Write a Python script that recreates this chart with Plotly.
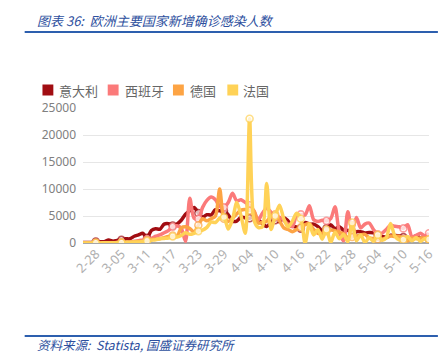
import plotly.graph_objects as go

dates = ["2-25", "2-26", "2-27", "2-28", "2-29", "3-01", "3-02", "3-03", "3-04", "3-05",
         "3-06", "3-07", "3-08", "3-09", "3-10", "3-11", "3-12", "3-13", "3-14", "3-15",
         "3-16", "3-17", "3-18", "3-19", "3-20", "3-21", "3-22", "3-23", "3-24", "3-25",
         "3-26", "3-27", "3-28", "3-29", "3-30", "3-31", "4-01", "4-02", "4-03", "4-04",
         "4-05", "4-06", "4-07", "4-08", "4-09", "4-10", "4-11", "4-12", "4-13", "4-14",
         "4-15", "4-16", "4-17", "4-18", "4-19", "4-20", "4-21", "4-22", "4-23", "4-24",
         "4-25", "4-26", "4-27", "4-28", "4-29", "4-30", "5-01", "5-02", "5-03", "5-04",
         "5-05", "5-06", "5-07", "5-08", "5-09", "5-10", "5-11", "5-12", "5-13", "5-14",
         "5-15", "5-16"]

tick_labels = ["2-28", "3-05", "3-11", "3-17", "3-23", "3-29", "4-04", "4-10",
               "4-16", "4-22", "4-28", "5-04", "5-10", "5-16"]

y_ticks = [0, 5000, 10000, 15000, 20000, 25000]

italy = [100, 93, 78, 250, 238, 240, 561, 347, 466, 587,
         769, 778, 1247, 1492, 1797, 977, 2313, 2651, 2547, 3497,
         3590, 3233, 3526, 4207, 5322, 5986, 6557, 5560, 4789, 5249,
         5210, 6153, 5959, 5974, 5217, 4050, 4053, 4782, 4668, 4585,
         4805, 4316, 3599, 3039, 3836, 4204, 3951, 4694, 4092, 3153,
         2972, 2667, 3786, 3493, 3491, 3047, 2256, 2729, 3370, 2646,
         3021, 2357, 2324, 1739, 2091, 2086, 1872, 1965, 1900, 1389,
         1221, 1075, 1444, 1401, 1327, 1083, 802, 744, 1402, 888,
         992, 789]

spain = [0, 0, 2, 6, 13, 15, 32, 45, 84, 74,
         107, 163, 330, 430, 580, 700, 870, 1250, 1500, 1900,
         2300, 3000, 3200, 2700, 300, 8300, 4600, 4500, 6600, 7900,
         8500, 8000, 6800, 6600, 7500, 9200, 7800, 8000, 7500, 7000,
         6000, 4300, 5500, 6500, 5700, 4800, 4800, 4200, 3500, 3000,
         5100, 5300, 5200, 6900, 4300, 4000, 4200, 4100, 4500, 6700,
         2000, 400, 5800, 2200, 4700, 2800, 3500, 3700, 2500, 1600,
         1800, 2500, 3300, 3100, 3000, 2700, 3400, 1200, 1400, 1800,
         1300, 1800]

germany = [0, 5, 10, 15, 20, 30, 40, 50, 60, 90,
           130, 150, 210, 270, 320, 500, 650, 700, 800, 1000,
           1200, 1400, 1200, 2800, 3000, 2700, 2000, 3300, 4500, 4100,
           4500, 5000, 10000, 4500, 4000, 4600, 5400, 6100, 6200, 6000,
           5900, 3700, 3800, 4000, 5000, 5300, 4100, 2800, 2500, 2100,
           2500, 2900, 3400, 3600, 2500, 1800, 1800, 2200, 2400, 2300,
           2000, 1700, 1000, 1100, 1300, 1500, 1600, 950, 800, 700,
           700, 950, 1300, 1200, 1250, 670, 360, 930, 800, 930,
           910, 620]

france = [5, 10, 20, 40, 20, 40, 60, 40, 80, 70,
          100, 150, 180, 200, 290, 370, 500, 600, 800, 850,
          900, 1200, 1100, 1400, 1900, 1600, 1800, 2200, 2400, 2900,
          3900, 3800, 4600, 4800, 2600, 4400, 7500, 5000, 1800, 23000,
          4300, 2900, 3000, 11000, 2500, 5000, 7000, 4500, 3000, 4000,
          5500, 4500, 0, 3500, 1500, 2500, 700, 2500, 100, 2000,
          800, 1600, 200, 3800, 400, 1500, 100, 1000, 300, 1500,
          500, 1000, 3600, 1300, 600, 600, 1200, 400, 1000, 300,
          800, 700]

series_names = ["意大利", "西班牙", "德国", "法国"]
series_values = [italy, spain, germany, france]
series_colors = ["#a10d12", "#fb7a7a", "#fda444", "#ffd257"]

# page body adds an 8px margin; work in screen pixels and convert
OFF = 8
W, H = 448 - OFF, 355 - OFF
PL, PR, PT, PB = 83, 433, 108, 243          # plot area in screen pixels
ML, MR, MT, MB = PL - OFF, (W + OFF) - PR, PT - OFF, (H + OFF) - PB
PW, PH = PR - PL, PB - PT


def px(x):
    return (x - PL) / PW


def py(y):
    return (PB - y) / PH


fig = go.Figure()

msize = [7 if d in tick_labels else 0 for d in dates]
mline = [1.6 if d in tick_labels else 0 for d in dates]

for name, vals, col in zip(series_names, series_values, series_colors):
    fig.add_trace(go.Scatter(
        x=dates, y=vals, name=name, mode="lines+markers",
        line=dict(color=col, width=3.5, shape="spline", smoothing=0.8),
        marker=dict(size=msize, color="white", line=dict(color=col, width=mline)),
        showlegend=False, cliponaxis=True,
    ))

shapes = [
    dict(type="line", xref="paper", yref="paper", x0=px(24), x1=px(442), y0=py(32), y1=py(32),
         line=dict(color="#2d5fae", width=2)),
    dict(type="line", xref="paper", yref="paper", x0=px(24), x1=px(442), y0=py(336), y1=py(336),
         line=dict(color="#2d5fae", width=2)),
]
annotations = [
    dict(text="<i>图表 36:  欧洲主要国家新增确诊感染人数</i>", xref="paper", yref="paper",
         x=px(34), y=py(20), xanchor="left", yanchor="middle", showarrow=False,
         font=dict(family="Noto Sans CJK SC", size=13, color="#2d4f9e")),
    dict(text="<i>资料来源:  Statista, 国盛证券研究所</i>", xref="paper", yref="paper",
         x=px(34), y=py(344), xanchor="left", yanchor="middle", showarrow=False,
         font=dict(family="Noto Sans CJK SC", size=12.5, color="#2d4f9e")),
]

# legend (square swatches + labels)
leg_sq = [47.5, 113.5, 179.5, 234.5]
leg_tx = [57, 123, 189, 243]
for name, col, sx, tx in zip(series_names, series_colors, leg_sq, leg_tx):
    shapes.append(dict(type="rect", xref="paper", yref="paper",
                       x0=px(sx - 5.5), x1=px(sx + 5.5), y0=py(95.5), y1=py(84.5),
                       fillcolor=col, line=dict(width=0)))
    annotations.append(dict(text=name, xref="paper", yref="paper", x=px(tx), y=py(90),
                            xanchor="left", yanchor="middle", showarrow=False,
                            font=dict(family="Noto Sans CJK SC", size=13, color="#666666")))

fig.update_layout(
    width=W, height=H,
    margin=dict(l=ML, r=MR, t=MT, b=MB, pad=0),
    paper_bgcolor="white", plot_bgcolor="white",
    shapes=shapes, annotations=annotations,
    showlegend=False,
    xaxis=dict(type="category", categoryorder="array", categoryarray=dates,
               range=[0, len(dates) - 1], tickvals=tick_labels, ticktext=tick_labels,
               tickangle=-45, showgrid=False, showline=False, ticks="",
               tickfont=dict(family="Noto Sans", size=13, color="#b0b0b0")),
    yaxis=dict(range=[0, 25000], tickvals=y_ticks, ticktext=[str(v) for v in y_ticks],
               showgrid=True, gridcolor="#e6e6e6", gridwidth=1,
               zeroline=True, zerolinecolor="#a6a6a6", zerolinewidth=2,
               showline=False, ticks="", ticklabelstandoff=6,
               tickfont=dict(family="Noto Sans", size=12, color="#808080")),
)

fig.write_html("out.html")
